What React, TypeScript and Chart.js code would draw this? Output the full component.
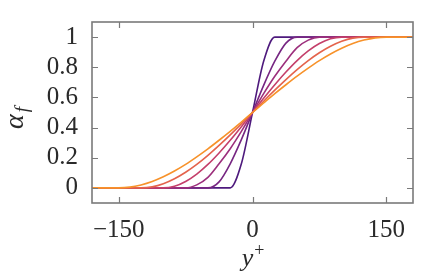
import React, { useEffect, useRef } from "react";
import { Chart, registerables } from "chart.js";

Chart.register(...registerables);

const xs = [-180, -150, -137.5, -125, -112.5, -100, -87.5, -75, -62.5, -50, -37.5, -25, -12.5, 0, 12.5, 25, 37.5, 50, 62.5, 75, 87.5, 100, 112.5, 125, 137.5, 150, 180];

const s1 = [0, 0, 0, 0, 0, 0, 0, 0, 0, 0, 0, 0, 0.16, 0.5, 0.84, 1, 1, 1, 1, 1, 1, 1, 1, 1, 1, 1, 1];
const s2 = [0, 0, 0, 0, 0, 0, 0, 0, 0, 0, 0.04, 0.16, 0.32, 0.5, 0.68, 0.84, 0.96, 1, 1, 1, 1, 1, 1, 1, 1, 1, 1];
const s3 = [0, 0, 0, 0, 0, 0, 0, 0, 0.02, 0.07, 0.16, 0.26, 0.375, 0.5, 0.625, 0.74, 0.84, 0.93, 0.98, 1, 1, 1, 1, 1, 1, 1, 1];
const s4 = [0, 0, 0, 0, 0, 0, 0.011, 0.043, 0.092, 0.156, 0.232, 0.316, 0.406, 0.5, 0.594, 0.684, 0.768, 0.844, 0.908, 0.957, 0.989, 1, 1, 1, 1, 1, 1];
const s5 = [0, 0, 0, 0, 0.007, 0.028, 0.061, 0.104, 0.156, 0.216, 0.282, 0.352, 0.425, 0.5, 0.575, 0.648, 0.718, 0.784, 0.844, 0.896, 0.939, 0.972, 0.993, 1, 1, 1, 1];
const s6 = [0, 0, 0.005, 0.02, 0.043, 0.074, 0.112, 0.156, 0.206, 0.259, 0.316, 0.375, 0.437, 0.5, 0.563, 0.625, 0.684, 0.741, 0.794, 0.844, 0.888, 0.926, 0.957, 0.98, 0.995, 1, 1];

const series = [s1, s2, s3, s4, s5, s6];
const colors = ["#4e1a7d", "#762682", "#9c2f7c", "#c43f6a", "#e4634c", "#f7922a"];

const xTicks = [-150, 0, 150];
const yTicks = [0, 0.2, 0.4, 0.6, 0.8, 1];

const FONT = "'Liberation Serif', 'DejaVu Serif', serif";
const AXIS_COLOR = "#7a7a7a";

const framePlugin = {
  id: "frame",
  afterDraw(chart: any) {
    const { ctx, chartArea } = chart;
    const { left, right, top, bottom } = chartArea;
    const xs_ = chart.scales.x;
    const ys_ = chart.scales.y;
    ctx.save();
    ctx.strokeStyle = AXIS_COLOR;
    ctx.lineWidth = 1.6;
    ctx.strokeRect(left, top, right - left, bottom - top);
    ctx.lineWidth = 1.2;
    const tl = 6;
    ctx.beginPath();
    for (const v of xTicks) {
      const px = Math.round(xs_.getPixelForValue(v)) + 0.5;
      ctx.moveTo(px, bottom);
      ctx.lineTo(px, bottom - tl);
      ctx.moveTo(px, top);
      ctx.lineTo(px, top + tl);
    }
    for (const v of yTicks) {
      const py = Math.round(ys_.getPixelForValue(v)) + 0.5;
      ctx.moveTo(left, py);
      ctx.lineTo(left + tl, py);
      ctx.moveTo(right, py);
      ctx.lineTo(right - tl, py);
    }
    ctx.stroke();

    // axis titles
    ctx.fillStyle = "#2a2a2a";
    ctx.textBaseline = "alphabetic";
    ctx.textAlign = "left";
    // x title: y^+
    ctx.font = `italic 26px ${FONT}`;
    const yw = ctx.measureText("y").width;
    const cx = (left + right) / 2 - 5;
    ctx.fillText("y", cx - yw / 2, 266);
    ctx.font = `18px ${FONT}`;
    ctx.fillText("+", cx + yw / 2 + 1, 256);
    // y title: alpha_f rotated
    ctx.save();
    ctx.translate(23, 129);
    ctx.rotate(-Math.PI / 2);
    ctx.font = `italic 28px ${FONT}`;
    ctx.fillText("α", 0, 0);
    const aw = ctx.measureText("α").width;
    ctx.font = `italic 19px ${FONT}`;
    ctx.fillText("f", aw + 2, 5);
    ctx.restore();
    ctx.restore();
  },
};

export default function App() {
  const ref = useRef<HTMLCanvasElement | null>(null);
  useEffect(() => {
    if (!ref.current) return;
    const chart = new Chart(ref.current, {
      type: "line",
      data: {
        datasets: series.map((s, i) => ({
          data: xs.map((x, j) => ({ x, y: s[j] })),
          borderColor: colors[i],
          borderWidth: 1.6,
          pointRadius: 0,
          fill: false,
          cubicInterpolationMode: "monotone" as const,
          order: series.length - i,
        })),
      },
      plugins: [framePlugin],
      options: {
        animation: false,
        responsive: false,
        maintainAspectRatio: false,
        layout: { padding: { left: 0, right: 28, top: 22, bottom: 0 } },
        plugins: { legend: { display: false }, tooltip: { enabled: false } },
        scales: {
          x: {
            type: "linear",
            min: -180,
            max: 180,
            grid: { display: false, drawTicks: false },
            border: { display: false },
            afterBuildTicks: (scale: any) => {
              scale.ticks = xTicks.map((v) => ({ value: v }));
            },
            afterFit: (scale: any) => {
              scale.height = 280 - 203;
            },
            ticks: {
              padding: 12,
              color: "#2a2a2a",
              font: { family: FONT, size: 25 },
              maxRotation: 0,
              callback: (v: any) => (Number(v) < 0 ? "\u2212" + Math.abs(Number(v)) : String(v)),
            },
          },
          y: {
            type: "linear",
            min: -0.1,
            max: 1.1,
            grid: { display: false, drawTicks: false },
            border: { display: false },
            afterBuildTicks: (scale: any) => {
              scale.ticks = yTicks.map((v) => ({ value: v }));
            },
            afterFit: (scale: any) => {
              scale.width = 92;
              scale.paddingTop = 0;
              scale.paddingBottom = 0;
            },
            ticks: {
              padding: 14,
              color: "#2a2a2a",
              font: { family: FONT, size: 25 },
              callback: (v: any) => String(Number(Number(v).toFixed(1))),
            },
          },
        },
      },
    });
    return () => chart.destroy();
  }, []);
  return (
    <div style={{ position: "fixed", left: 0, top: 0, width: 441, height: 280, background: "#fff" }}>
      <canvas ref={ref} width={441} height={280} style={{ width: 441, height: 280 }} />
    </div>
  );
}
